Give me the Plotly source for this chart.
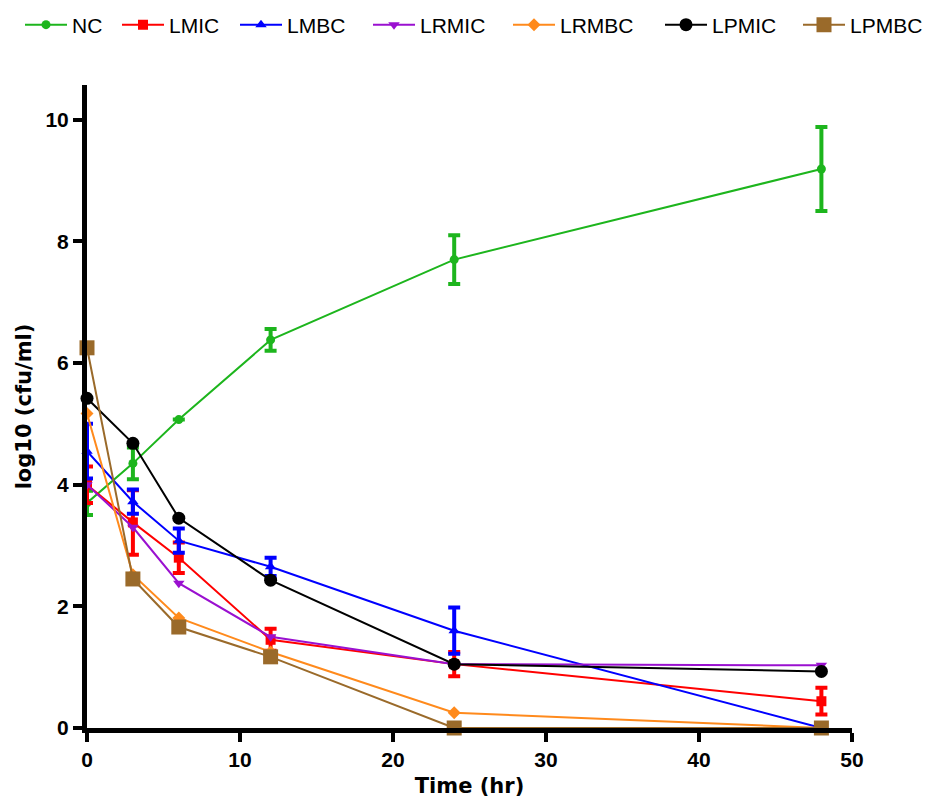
import plotly.graph_objects as go

time_hr = [0, 3, 6, 12, 24, 48]

nc = [3.7, 4.35, 5.07, 6.38, 7.7, 9.19]
nc_err = [0.2, 0.26, None, 0.18, 0.4, 0.69]

lmic = [4.0, 3.38, 2.8, 1.45, 1.05, 0.44]
lmic_err = [0.3, 0.53, 0.25, 0.18, 0.2, 0.22]

lmbc = [4.55, 3.72, 3.08, 2.65, 1.6, 0.0]
lmbc_err = [0.45, 0.2, 0.2, 0.15, 0.38, None]

lrmic = [4.0, 3.3, 2.38, 1.5, 1.05, 1.03]
lrmbc = [5.17, 2.52, 1.81, 1.25, 0.25, 0.0]
lpmic = [5.42, 4.68, 3.45, 2.43, 1.05, 0.93]
lpmbc = [6.25, 2.45, 1.66, 1.17, 0.0, 0.0]

series = [
    ("NC", nc, nc_err, "#1db51d", "circle", 9),
    ("LMIC", lmic, lmic_err, "#ff0000", "square", 10),
    ("LMBC", lmbc, lmbc_err, "#0000ff", "triangle-up", 10),
    ("LRMIC", lrmic, None, "#9a10d0", "triangle-down", 10),
    ("LRMBC", lrmbc, None, "#ff8a1c", "diamond", 10),
    ("LPMIC", lpmic, None, "#000000", "circle", 13),
    ("LPMBC", lpmbc, None, "#9a6a2a", "square", 15),
]

# page x of each legend entry's line symbol start
legend_x_px = [25, 122, 240, 373, 513, 665, 803]

W, H = 925, 796  # page body has an 8px margin

fig = go.Figure()
legends = {}
for i, (name, vals, err, color, sym, size) in enumerate(series):
    lg = "legend" if i == 0 else f"legend{i + 1}"
    tr = dict(
        x=time_hr, y=vals, name=name, mode="lines+markers",
        line=dict(color=color, width=2),
        marker=dict(color=color, symbol=sym, size=size),
        cliponaxis=False, legend=lg,
    )
    if err is not None:
        tr["error_y"] = dict(type="data", array=err, color=color,
                             thickness=4, width=6, visible=True)
    fig.add_trace(go.Scatter(**tr))
    legends[lg] = dict(
        orientation="h", xref="container", yref="container",
        x=(legend_x_px[i] - 8 - 5) / W, xanchor="left",
        y=1 - 17 / H, yanchor="middle",
        font=dict(size=21), itemwidth=42, bgcolor="rgba(0,0,0,0)",
    )

tick_font = dict(family="Liberation Sans, Arial, sans-serif", size=21, weight="bold")
title_font = dict(family="DejaVu Sans, sans-serif", size=21, weight="bold")

fig.update_layout(
    width=W, height=H,
    margin=dict(l=79, r=81, t=77, b=76, autoexpand=False),
    plot_bgcolor="white", paper_bgcolor="white",
    font=dict(family="Liberation Sans, Arial, sans-serif", color="black"),
    showlegend=True,
    xaxis=dict(
        range=[0, 50], tickvals=[0, 10, 20, 30, 40, 50], automargin=False,
        showline=True, linecolor="black", linewidth=5,
        ticks="outside", ticklen=9, tickwidth=4, tickcolor="black",
        showgrid=False, zeroline=False,
        tickfont=tick_font,
        title=dict(text="Time (hr)", font=title_font, standoff=10),
    ),
    yaxis=dict(
        range=[0, 10.57], tickvals=[0, 2, 4, 6, 8, 10], automargin=False,
        showline=True, linecolor="black", linewidth=5,
        ticks="outside", ticklen=9, tickwidth=4, tickcolor="black",
        showgrid=False, zeroline=False,
        tickfont=tick_font,
        title=dict(text="log10 (cfu/ml)", font=title_font, standoff=10),
    ),
    **legends,
)

fig.write_html("out.html")
